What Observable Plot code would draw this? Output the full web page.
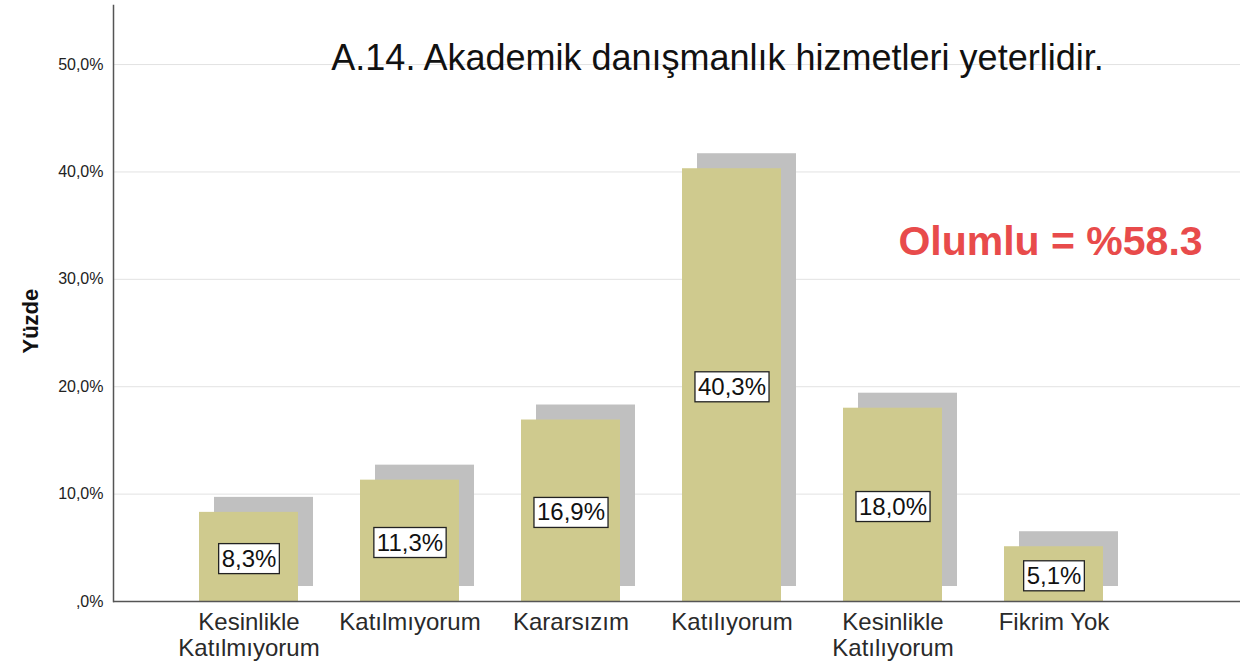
<!DOCTYPE html>
<html><head><meta charset="utf-8">
<script src="https://cdn.jsdelivr.net/npm/d3@7"></script>
<script src="https://cdn.jsdelivr.net/npm/@observablehq/plot@0.6"></script>
<style>html,body{margin:0;padding:0;background:#fff} svg{display:block}</style>
</head><body><div id="chart"></div>
<script>
const categories = ["Kesinlikle\nKatılmıyorum", "Katılmıyorum", "Kararsızım", "Katılıyorum", "Kesinlikle\nKatılıyorum", "Fikrim Yok"];
const percents = [8.3, 11.3, 16.9, 40.3, 18.0, 5.1];
const yTicks = [0, 10, 20, 30, 40, 50];
const titleText = "A.14. Akademik danışmanlık hizmetleri yeterlidir.";
const noteText = "Olumlu = %58.3";
const yLabel = "Yüzde";

const data = categories.map((c, i) => ({category: c, value: percents[i]}));
const pct = v => v.toFixed(1).replace(".", ",") + "%";
const tickFmt = v => v === 0 ? ",0%" : pct(v);
const FONT = "'Liberation Sans', Arial, Helvetica, sans-serif";

const plot = Plot.plot({
  width: 1243, height: 668,
  marginLeft: 113, marginRight: 3, marginTop: 5, marginBottom: 67,
  style: {fontFamily: FONT, background: "#fff", color: "#222"},
  x: {domain: categories, range: [166.8, 1134.4], paddingInner: 0.386, paddingOuter: 0.193, label: null},
  y: {domain: [0, 55.5], label: null},
  marks: [
    Plot.ruleY(yTicks.filter(d => d > 0), {stroke: "#e2e2e2", strokeWidth: 1}),
    Plot.barY(data, {x: "category", y: "value", fill: "#c0c0c0", dx: 15, dy: -15}),
    Plot.barY(data, {x: "category", y: "value", fill: "#cfca8e"}),
    Plot.ruleY([0], {stroke: "#555", strokeWidth: 1.5}),
    Plot.frame({anchor: "left", stroke: "#555", strokeWidth: 1.5}),
    Plot.axisY({ticks: yTicks, tickSize: 0, tickPadding: 10, tickFormat: tickFmt, fontSize: 16, label: null, fill: "#222"}),
    Plot.axisX({tickSize: 0, tickPadding: 11, fontSize: 24, label: null, lineHeight: 1.05, fill: "#2a2a2a"}),
    Plot.text(data, {x: "category", y: d => d.value / 2, text: d => pct(d.value), fontSize: 24, fill: "#111", dy: 2, className: "vlabel"}),
    Plot.text([titleText], {frameAnchor: "top-left", dx: 717 - 113, dy: 39, fontSize: 36, fill: "#111", textAnchor: "middle"}),
    Plot.text([noteText], {frameAnchor: "top-left", dx: 1050 - 113, dy: 220, fontSize: 41, fontWeight: "bold", fill: "#e84b4b", textAnchor: "middle"}),
    Plot.text([yLabel], {frameAnchor: "left", rotate: -90, dx: 30 - 113, dy: 50, fontSize: 22, fontWeight: "bold", fill: "#111"})
  ]
});
document.getElementById("chart").append(plot);

// white boxes behind value labels
plot.querySelectorAll("g.vlabel text").forEach(t => {
  const bb = t.getBBox();
  const r = document.createElementNS("http://www.w3.org/2000/svg", "rect");
  r.setAttribute("x", bb.x - 3);
  r.setAttribute("y", bb.y - 1);
  r.setAttribute("width", bb.width + 6);
  r.setAttribute("height", bb.height + 3);
  r.setAttribute("fill", "#fff");
  r.setAttribute("stroke", "#222");
  r.setAttribute("stroke-width", "1.3");
  const tr = t.getAttribute("transform");
  if (tr) r.setAttribute("transform", tr);
  t.parentNode.insertBefore(r, t);
});
</script>
</body></html>
